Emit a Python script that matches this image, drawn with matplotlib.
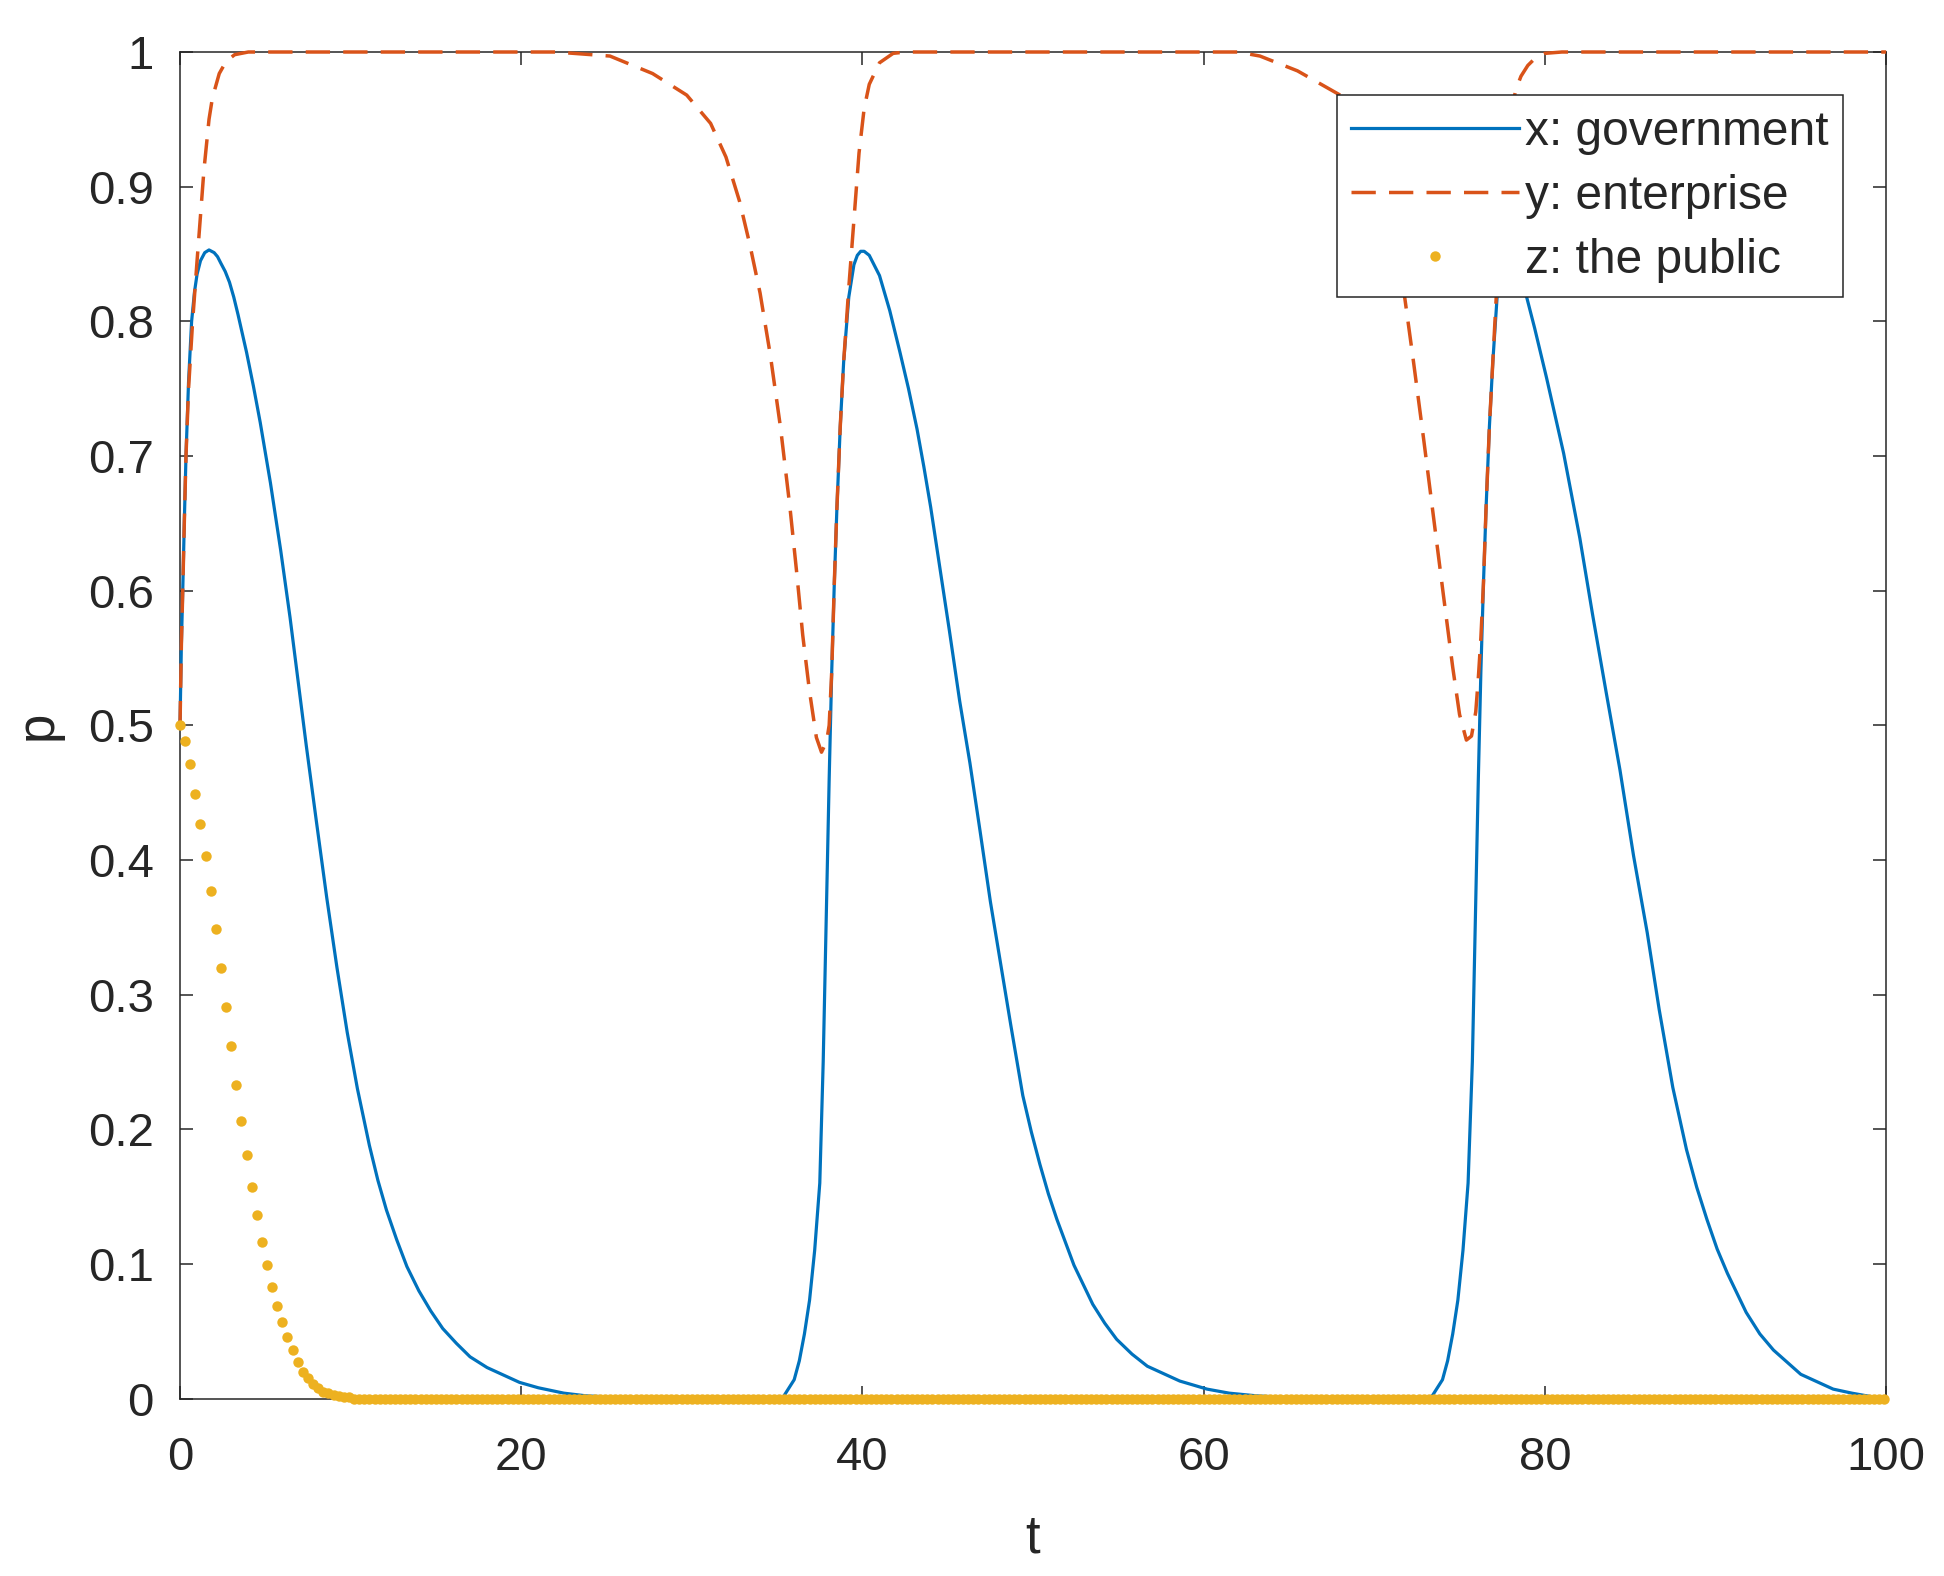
#!/usr/bin/env python3
"""Evolution of x (government), y (enterprise), z (the public) over time t."""

import numpy as np
import matplotlib
matplotlib.use("Agg")
import matplotlib.pyplot as plt

# ---- data ----
# x: government, one block per cycle
t_x1 = [0, 0.08, 0.16, 0.25, 0.35, 0.5, 0.68, 0.85, 1.0, 1.2,
        1.45, 1.7, 2.0, 2.2, 2.4, 2.65, 2.9, 3.15, 3.4, 3.65,
        3.9, 4.3, 4.7, 5.3, 5.9, 6.45, 6.9, 7.4, 8.0, 8.6,
        9.2, 9.8, 10.4, 11.1, 11.6, 12.1, 12.7, 13.3, 14.0, 14.7,
        15.4, 16.2, 17.0, 18.0, 19.9, 21.0, 22.5, 23.8, 25.4, 28.0,
        32.0]
x_1 = [0.5, 0.56, 0.6, 0.65, 0.7, 0.755, 0.8, 0.822, 0.835, 0.845,
       0.851, 0.853, 0.851, 0.848, 0.843, 0.837, 0.829, 0.818, 0.805, 0.791,
       0.777, 0.752, 0.725, 0.68, 0.63, 0.58, 0.535, 0.485, 0.428, 0.372,
       0.32, 0.272, 0.23, 0.188, 0.162, 0.14, 0.118, 0.098, 0.08, 0.065,
       0.052, 0.041, 0.031, 0.023, 0.012, 0.008, 0.004, 0.002, 0.001, 0.0,
       0.0]

t_x2 = [35.3, 35.6, 36.0, 36.3, 36.6, 36.9, 37.2, 37.5, 37.7, 37.9,
        38.05, 38.2, 38.35, 38.5, 38.7, 38.9, 39.2, 39.5, 39.7, 39.9,
        40.1, 40.4, 41.0, 41.6, 42.2, 42.7, 43.2, 43.6, 44.0, 44.55,
        45.1, 45.7, 46.3, 46.9, 47.5, 48.1, 48.7, 49.4, 49.9, 50.4,
        50.9, 51.4, 52.4, 53.5, 54.2, 54.9, 55.8, 56.7, 58.6, 60.2,
        61.5, 63.1, 66.0, 70.0]
x_2 = [0.0, 0.006, 0.014, 0.028, 0.048, 0.073, 0.11, 0.16, 0.25, 0.37,
       0.46, 0.54, 0.605, 0.66, 0.722, 0.77, 0.818, 0.842, 0.849, 0.852,
       0.852, 0.849, 0.834, 0.808, 0.777, 0.75, 0.72, 0.692, 0.662, 0.616,
       0.57, 0.518, 0.472, 0.421, 0.369, 0.323, 0.277, 0.225, 0.198, 0.174,
       0.152, 0.133, 0.099, 0.07, 0.056, 0.044, 0.033, 0.024, 0.013, 0.007,
       0.004, 0.002, 0.0, 0.0]

t_x3 = [73.3, 73.6, 74.0, 74.3, 74.6, 74.9, 75.2, 75.5, 75.75, 75.95,
        76.1, 76.25, 76.4, 76.55, 76.75, 76.95, 77.2, 77.45, 77.8,
        78.2, 78.75, 79.4, 80.1, 80.6, 81.1, 82.05, 82.8, 83.6, 84.4,
        85.2, 86.0, 86.7, 87.5, 88.3, 88.9, 89.5, 90.1, 90.7, 91.8,
        92.6, 93.4, 95.0, 96.9, 98.0, 99.3, 100.0]
x_3 = [0.0, 0.006, 0.014, 0.028, 0.048, 0.073, 0.11, 0.16, 0.25, 0.37,
       0.46, 0.54, 0.605, 0.66, 0.722, 0.77, 0.818, 0.842, 0.853,
       0.847, 0.827, 0.795, 0.758, 0.73, 0.702, 0.639, 0.582, 0.524, 0.467,
       0.403, 0.346, 0.289, 0.231, 0.185, 0.157, 0.133, 0.111, 0.093, 0.064,
       0.048, 0.036, 0.018, 0.007, 0.004, 0.001, 0.0]

# y: enterprise
t_y1 = [0, 0.08, 0.16, 0.25, 0.35, 0.5, 0.74, 1.0, 1.15, 1.4,
        1.7, 1.9, 2.3, 2.7, 3.2, 4.0, 22.0, 25.2, 27.7, 29.7,
        31.1, 32.0, 32.8, 33.4, 34.0, 34.6, 35.2, 35.75, 36.15, 36.5,
        36.9, 37.3, 37.6, 37.9, 38.05, 38.2, 38.35, 38.5, 38.7, 38.9,
        39.2, 39.5, 39.8, 40.1, 40.4, 41.0, 41.8, 42.5]
y_1 = [0.5, 0.56, 0.6, 0.65, 0.7, 0.75, 0.8, 0.845, 0.87, 0.912,
       0.95, 0.966, 0.984, 0.993, 0.998, 1.0, 1.0, 0.997, 0.984, 0.968,
       0.947, 0.922, 0.889, 0.857, 0.821, 0.775, 0.721, 0.662, 0.613, 0.567,
       0.525, 0.491, 0.48, 0.488, 0.5, 0.54, 0.605, 0.66, 0.722, 0.77,
       0.825, 0.875, 0.925, 0.958, 0.976, 0.992, 0.999, 1.0]

t_y2 = [62.0, 63.3, 65.5, 68.0, 68.9, 69.8, 70.6, 71.2, 71.75, 72.3,
        72.9, 73.5, 74.05, 74.6, 75.0, 75.4, 75.7, 75.95, 76.1, 76.25,
        76.4, 76.55, 76.75, 76.95, 77.2, 77.45, 77.7, 78.0, 78.3, 78.6,
        79.0, 79.4, 80.0, 81.0, 100.0]
y_2 = [1.0, 0.997, 0.986, 0.968, 0.947, 0.922, 0.889, 0.857, 0.821, 0.77,
       0.712, 0.652, 0.597, 0.543, 0.508, 0.489, 0.492, 0.51, 0.535, 0.565,
       0.605, 0.66, 0.722, 0.77, 0.83, 0.88, 0.925, 0.955, 0.972, 0.982,
       0.99, 0.995, 0.999, 1.0, 1.0]

# z: the public (solver output, plotted as dots)
t_z_head = [0.0, 0.3, 0.6, 0.9, 1.2, 1.5, 1.8, 2.1, 2.4, 2.7,
            3.0, 3.3, 3.6, 3.9, 4.2, 4.5, 4.8, 5.1, 5.4, 5.7,
            6.0, 6.3, 6.6, 6.9, 7.2, 7.5, 7.8, 8.1, 8.4, 8.7,
            9.0, 9.3, 9.6, 9.9]
z_head = [0.500, 0.488, 0.471, 0.449, 0.427, 0.403, 0.377, 0.349, 0.320, 0.291,
          0.262, 0.233, 0.206, 0.181, 0.157, 0.136, 0.116, 0.099, 0.083, 0.069,
          0.057, 0.046, 0.036, 0.027, 0.020, 0.015, 0.011, 0.008, 0.005, 0.004,
          0.003, 0.002, 0.001, 0.001]
# after t ~ 10 the public stays flat at 0 (same output step)
t_z_tail = np.arange(10.2, 100.01, 0.3)

x_ticks = [0, 20, 40, 60, 80, 100]
y_ticks = [0, 0.1, 0.2, 0.3, 0.4, 0.5, 0.6, 0.7, 0.8, 0.9, 1]
y_ticklabels = ["0", "0.1", "0.2", "0.3", "0.4", "0.5", "0.6", "0.7", "0.8", "0.9", "1"]

# MATLAB default colour order
BLUE = "#0072BD"
ORANGE = "#D95319"
YELLOW = "#EDB120"
INK = "#262626"


def main():
    plt.rcParams["font.family"] = ["Liberation Sans", "DejaVu Sans"]

    t_x = t_x1 + t_x2 + t_x3
    x_gov = x_1 + x_2 + x_3
    t_y = t_y1 + t_y2
    y_ent = y_1 + y_2
    t_z = np.concatenate([t_z_head, t_z_tail])
    z_pub = np.concatenate([z_head, np.zeros(len(t_z_tail))])

    fig = plt.figure(figsize=(19.44, 15.76), dpi=100)
    ax = fig.add_axes([0.0926, 0.1126, 0.8776, 0.8544])

    ax.plot(t_x, x_gov, color=BLUE, linewidth=2.3, label="x: government",
            clip_on=False, zorder=3, solid_joinstyle="round")
    ax.plot(t_y, y_ent, color=ORANGE, linewidth=2.5, dashes=(7, 3.8),
            label="y: enterprise", clip_on=False, zorder=3)
    ax.plot(t_z, z_pub, linestyle="none", marker="o", markersize=7.5,
            markeredgewidth=0, color=YELLOW, label="z: the public",
            clip_on=False, zorder=4)

    ax.set_xlim(0, 100)
    ax.set_ylim(0, 1)
    ax.set_xticks(x_ticks)
    ax.set_yticks(y_ticks)
    ax.set_yticklabels(y_ticklabels)

    for sp in ax.spines.values():
        sp.set_color(INK)
        sp.set_linewidth(1.1)
    ax.tick_params(axis="both", direction="in", length=9.5, width=1.1,
                   colors=INK, labelsize=34, top=True, right=True)
    ax.tick_params(axis="x", pad=27)
    ax.tick_params(axis="y", pad=19)

    ax.set_xlabel("t", fontsize=38, color=INK, labelpad=24)
    ax.set_ylabel("p", fontsize=38, color=INK, labelpad=18)

    leg = ax.legend(loc="upper right", fontsize=34.5, handlelength=3.5,
                    handletextpad=0.12, borderpad=0.3, labelspacing=0.4,
                    borderaxespad=0.9, fancybox=False, framealpha=1,
                    edgecolor=INK, numpoints=1)
    leg.get_frame().set_linewidth(1.1)
    for txt in leg.get_texts():
        txt.set_color(INK)

    fig.savefig("out.png", dpi=100)


if __name__ == "__main__":
    main()
